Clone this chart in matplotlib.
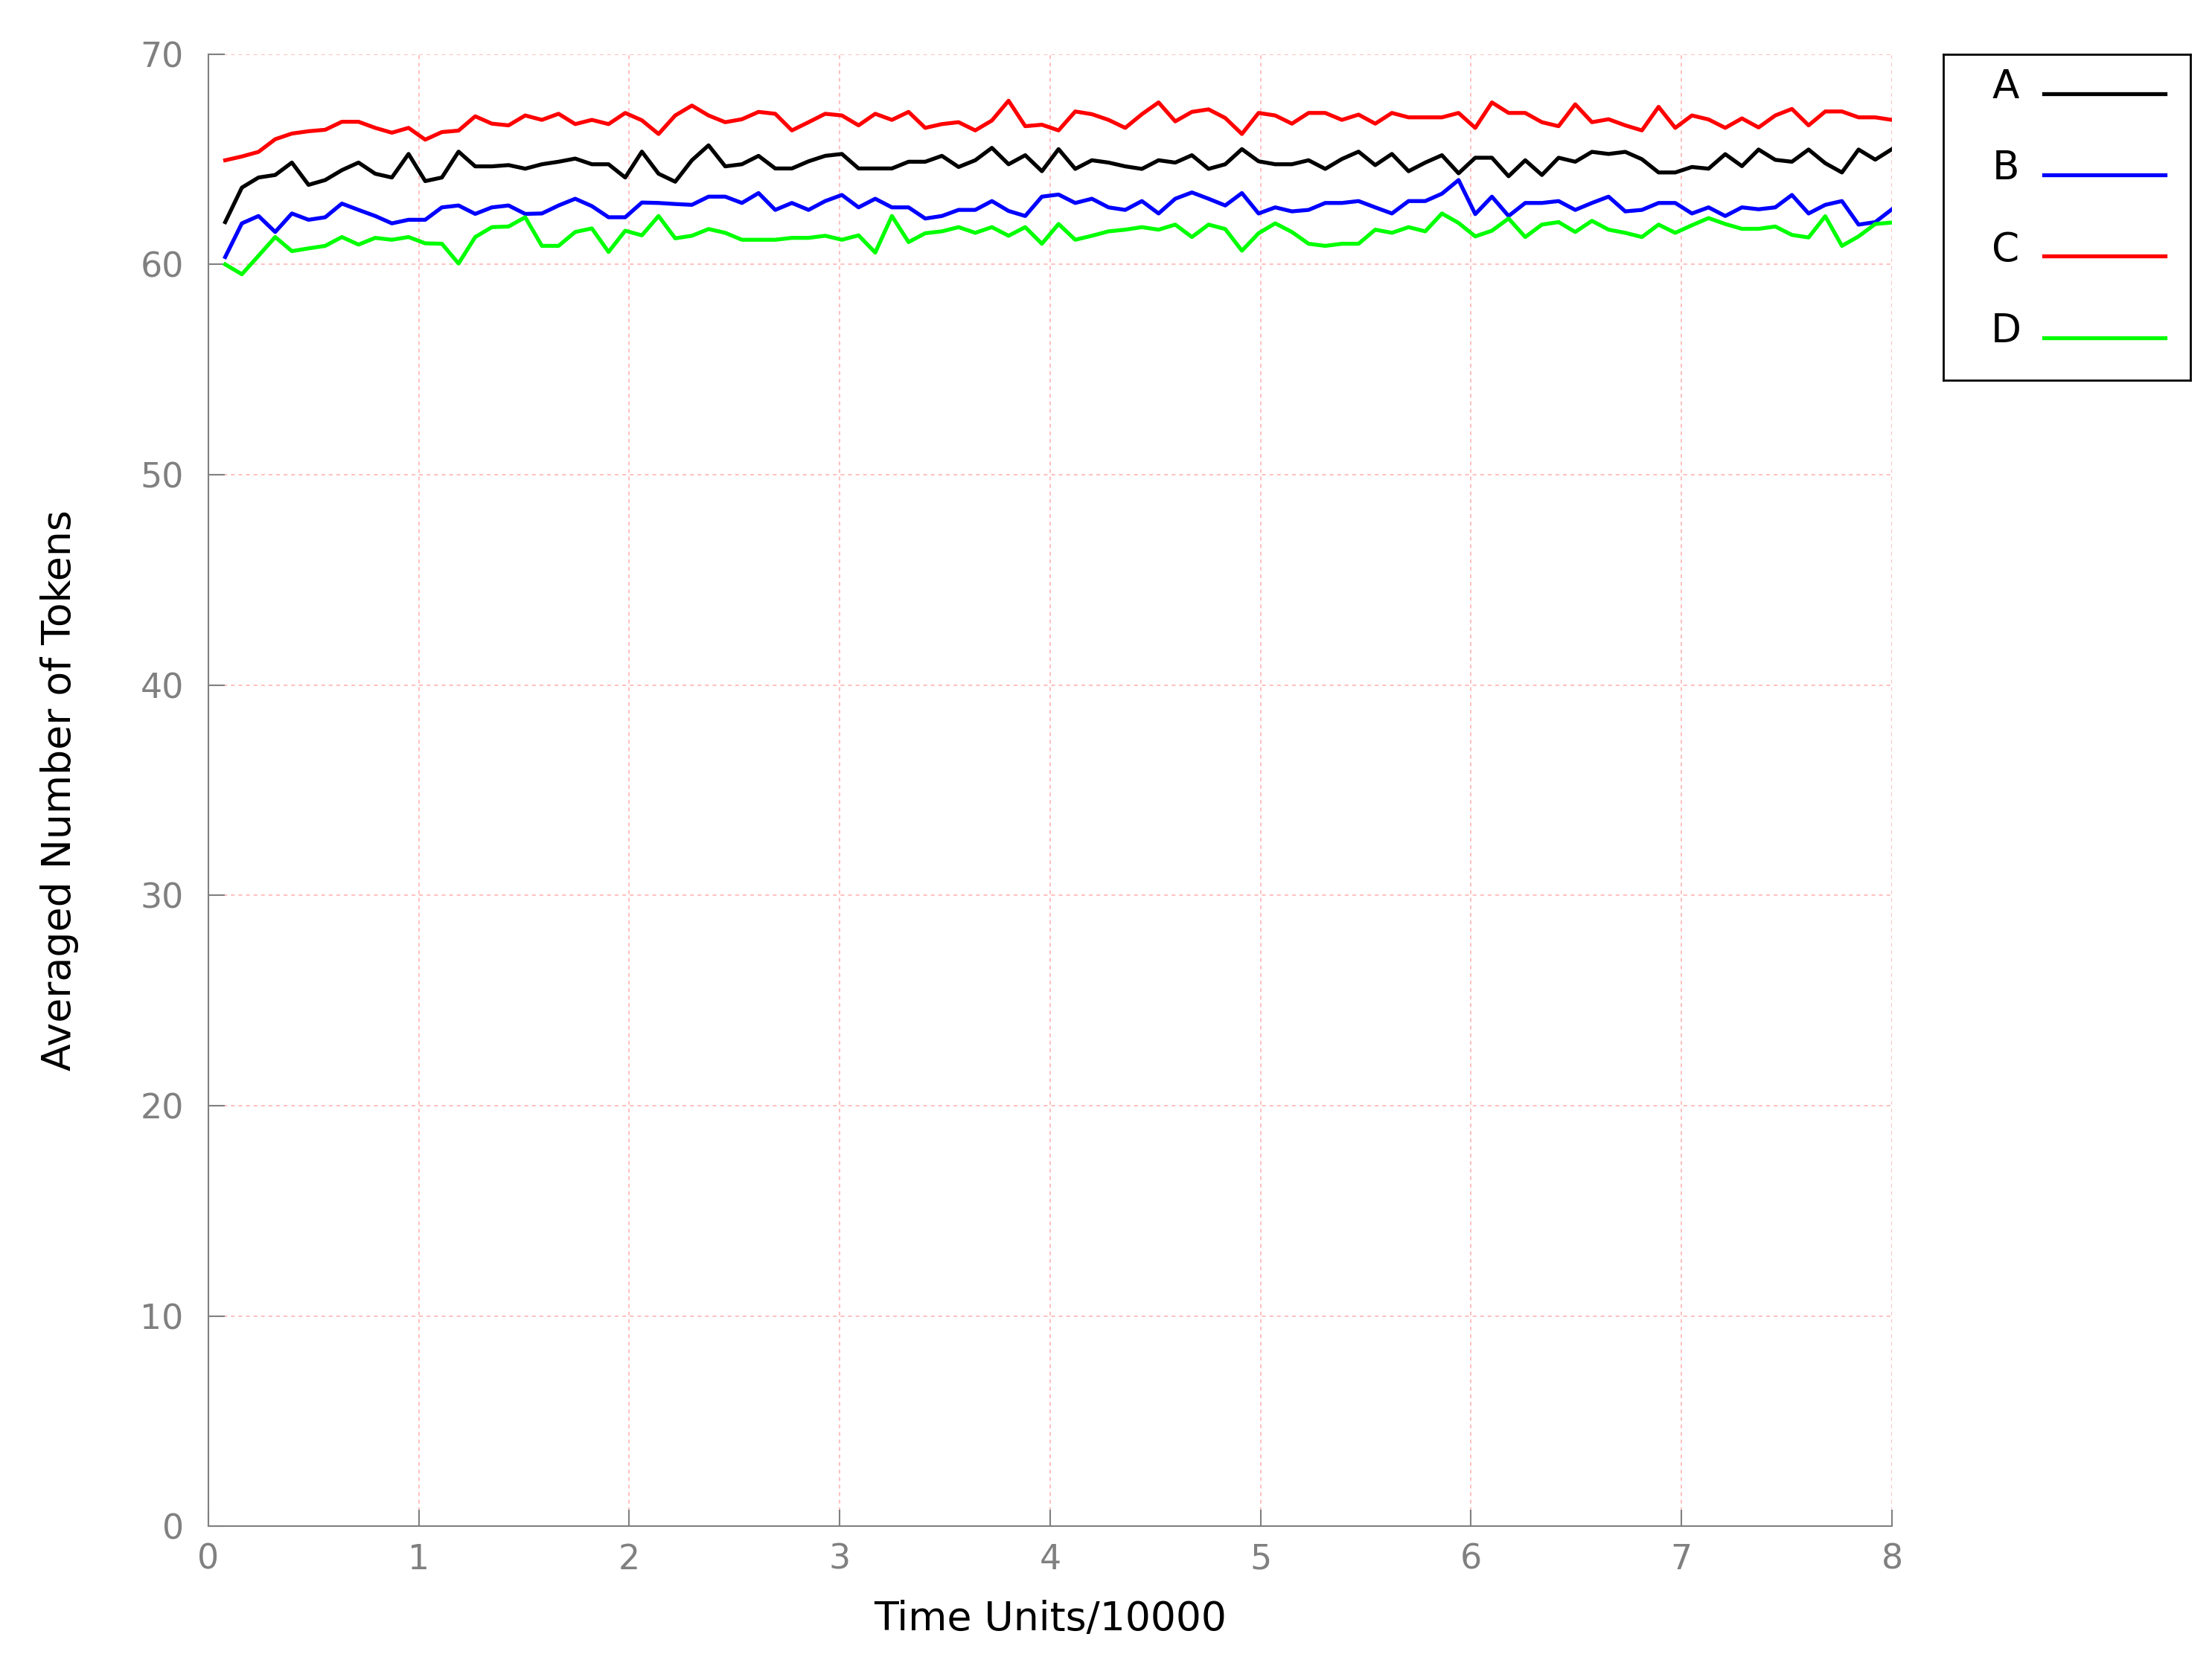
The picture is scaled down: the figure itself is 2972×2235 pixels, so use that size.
import numpy as np
import matplotlib
matplotlib.use('Agg')
import matplotlib.pyplot as plt

# time axis (units of 10000), 101 samples up to 8
time = np.linspace(0.08, 8.0, 101)

series_names = ['A', 'B', 'C', 'D']
series_colors = ['#000000', '#0000ff', '#ff0000', '#00ff00']

A = [62.01, 63.65, 64.13, 64.25, 64.84, 63.78, 64.01, 64.48, 64.84, 64.31,
     64.13, 65.25, 63.96, 64.13, 65.36, 64.66, 64.66, 64.72, 64.55, 64.76,
     64.88, 65.03, 64.76, 64.76, 64.13, 65.36, 64.31, 63.93, 64.95, 65.66,
     64.66, 64.76, 65.16, 64.56, 64.56, 64.90, 65.16, 65.25, 64.56, 64.56,
     64.56, 64.88, 64.88, 65.16, 64.63, 64.95, 65.54, 64.76, 65.19, 64.43,
     65.48, 64.54, 64.95, 64.84, 64.66, 64.54, 64.95, 64.84, 65.19, 64.54,
     64.76, 65.48, 64.90, 64.76, 64.76, 64.95, 64.54, 65.01, 65.36, 64.72,
     65.25, 64.43, 64.84, 65.19, 64.33, 65.07, 65.07, 64.19, 64.95, 64.25,
     65.07, 64.88, 65.35, 65.25, 65.35, 65.00, 64.37, 64.37, 64.63, 64.55,
     65.24, 64.67, 65.46, 64.97, 64.88, 65.46, 64.81, 64.37, 65.46, 64.98,
     65.48]

B = [60.35, 61.95, 62.30, 61.54, 62.42, 62.12, 62.24, 62.89, 62.59, 62.30,
     61.95, 62.12, 62.12, 62.71, 62.80, 62.40, 62.71, 62.80, 62.40, 62.42,
     62.80, 63.12, 62.77, 62.24, 62.24, 62.94, 62.92, 62.87, 62.83, 63.22,
     63.22, 62.92, 63.39, 62.59, 62.92, 62.59, 63.01, 63.30, 62.71, 63.12,
     62.71, 62.71, 62.18, 62.30, 62.59, 62.59, 63.01, 62.54, 62.30, 63.22,
     63.32, 62.92, 63.12, 62.71, 62.59, 63.01, 62.42, 63.12, 63.42, 63.12,
     62.80, 63.39, 62.42, 62.71, 62.52, 62.59, 62.92, 62.92, 63.01, 62.71,
     62.42, 63.01, 63.01, 63.36, 64.01, 62.39, 63.22, 62.30, 62.92, 62.92,
     63.01, 62.59, 62.92, 63.22, 62.52, 62.59, 62.92, 62.92, 62.42, 62.71,
     62.30, 62.71, 62.62, 62.71, 63.30, 62.42, 62.83, 63.01, 61.89, 62.01,
     62.62]

C = [64.95, 65.13, 65.35, 65.95, 66.22, 66.33, 66.40, 66.78, 66.78, 66.49,
     66.26, 66.49, 65.93, 66.29, 66.36, 67.04, 66.69, 66.61, 67.08, 66.87,
     67.16, 66.67, 66.87, 66.67, 67.20, 66.85, 66.20, 67.08, 67.55, 67.08,
     66.76, 66.90, 67.25, 67.16, 66.37, 66.76, 67.16, 67.08, 66.61, 67.16,
     66.87, 67.25, 66.49, 66.67, 66.76, 66.37, 66.84, 67.78, 66.57, 66.64,
     66.37, 67.27, 67.14, 66.87, 66.49, 67.14, 67.70, 66.80, 67.25, 67.37,
     66.96, 66.20, 67.20, 67.08, 66.69, 67.20, 67.20, 66.87, 67.12, 66.69,
     67.20, 66.99, 66.99, 66.99, 67.20, 66.49, 67.70, 67.20, 67.20, 66.76,
     66.57, 67.61, 66.76, 66.90, 66.61, 66.37, 67.49, 66.49, 67.08, 66.89,
     66.49, 66.94, 66.51, 67.08, 67.39, 66.61, 67.27, 67.27, 66.99, 66.99,
     66.87]

D = [60.00, 59.53, 60.41, 61.30, 60.63, 60.76, 60.88, 61.30, 60.94, 61.26,
     61.17, 61.30, 61.00, 60.98, 60.04, 61.30, 61.77, 61.80, 62.24, 60.88,
     60.88, 61.54, 61.71, 60.59, 61.60, 61.38, 62.30, 61.24, 61.36, 61.68,
     61.50, 61.17, 61.17, 61.17, 61.26, 61.26, 61.36, 61.17, 61.38, 60.56,
     62.30, 61.06, 61.48, 61.57, 61.77, 61.50, 61.77, 61.36, 61.77, 60.98,
     61.92, 61.17, 61.36, 61.57, 61.65, 61.77, 61.65, 61.89, 61.30, 61.89,
     61.68, 60.65, 61.48, 61.95, 61.54, 60.98, 60.88, 60.98, 60.98, 61.65,
     61.50, 61.77, 61.57, 62.42, 61.97, 61.33, 61.60, 62.18, 61.30, 61.89,
     62.01, 61.54, 62.07, 61.65, 61.50, 61.30, 61.89, 61.50, 61.86, 62.20,
     61.92, 61.69, 61.69, 61.80, 61.40, 61.28, 62.29, 60.88, 61.33, 61.92,
     61.99]

xticks = [0, 1, 2, 3, 4, 5, 6, 7, 8]
yticks = [0, 10, 20, 30, 40, 50, 60, 70]

gray = '#808080'
plt.rcParams['font.family'] = 'DejaVu Sans'

fig = plt.figure(figsize=(14.86, 11.175), dpi=200)
ax = fig.add_axes([0.0942, 0.0822, 0.7611, 0.8853])

for name, col, vals in zip(series_names, series_colors, [A, B, C, D]):
    ax.plot(time, vals, color=col, lw=1.9, label=name, zorder=3)

ax.set_xlim(0, 8)
ax.set_ylim(0, 70)
ax.set_xticks(xticks)
ax.set_yticks(yticks)
ax.grid(True, color='#ffbfbf', lw=0.7, linestyle=(0, (2.6, 2.6)), zorder=1)

for s in ['top', 'right']:
    ax.spines[s].set_visible(False)
for s in ['left', 'bottom']:
    ax.spines[s].set_color(gray)
    ax.spines[s].set_linewidth(0.75)

ax.tick_params(axis='both', direction='in', length=7.9, width=0.75,
               color=gray, labelcolor=gray, labelsize=16.5)
ax.tick_params(axis='x', pad=8)
ax.tick_params(axis='y', pad=12)

ax.set_xlabel('Time Units/10000', fontsize=19.3, color='black')
ax.set_ylabel('Averaged Number of Tokens', fontsize=19.3, color='black')
ax.xaxis.set_label_coords(0.5, -0.05)
ax.yaxis.set_label_coords(-0.077, 0.5)

# legend box drawn by hand: label on the left, line sample on the right
lg = fig.add_axes([0.8785, 0.7714, 0.1117, 0.196])
lg.set_xlim(0, 1)
lg.set_ylim(0, 1)
lg.set_xticks([])
lg.set_yticks([])
for s in lg.spines.values():
    s.set_color('black')
    s.set_linewidth(1.0)
for i, (name, col) in enumerate(zip(series_names, series_colors)):
    yy = 0.879 - i * 0.2495
    lg.text(0.253, yy + 0.02, name, fontsize=19.2, ha='center', va='center')
    lg.plot([0.407, 0.898], [yy, yy], color=col, lw=1.9)

fig.savefig('out.png', dpi=200)
